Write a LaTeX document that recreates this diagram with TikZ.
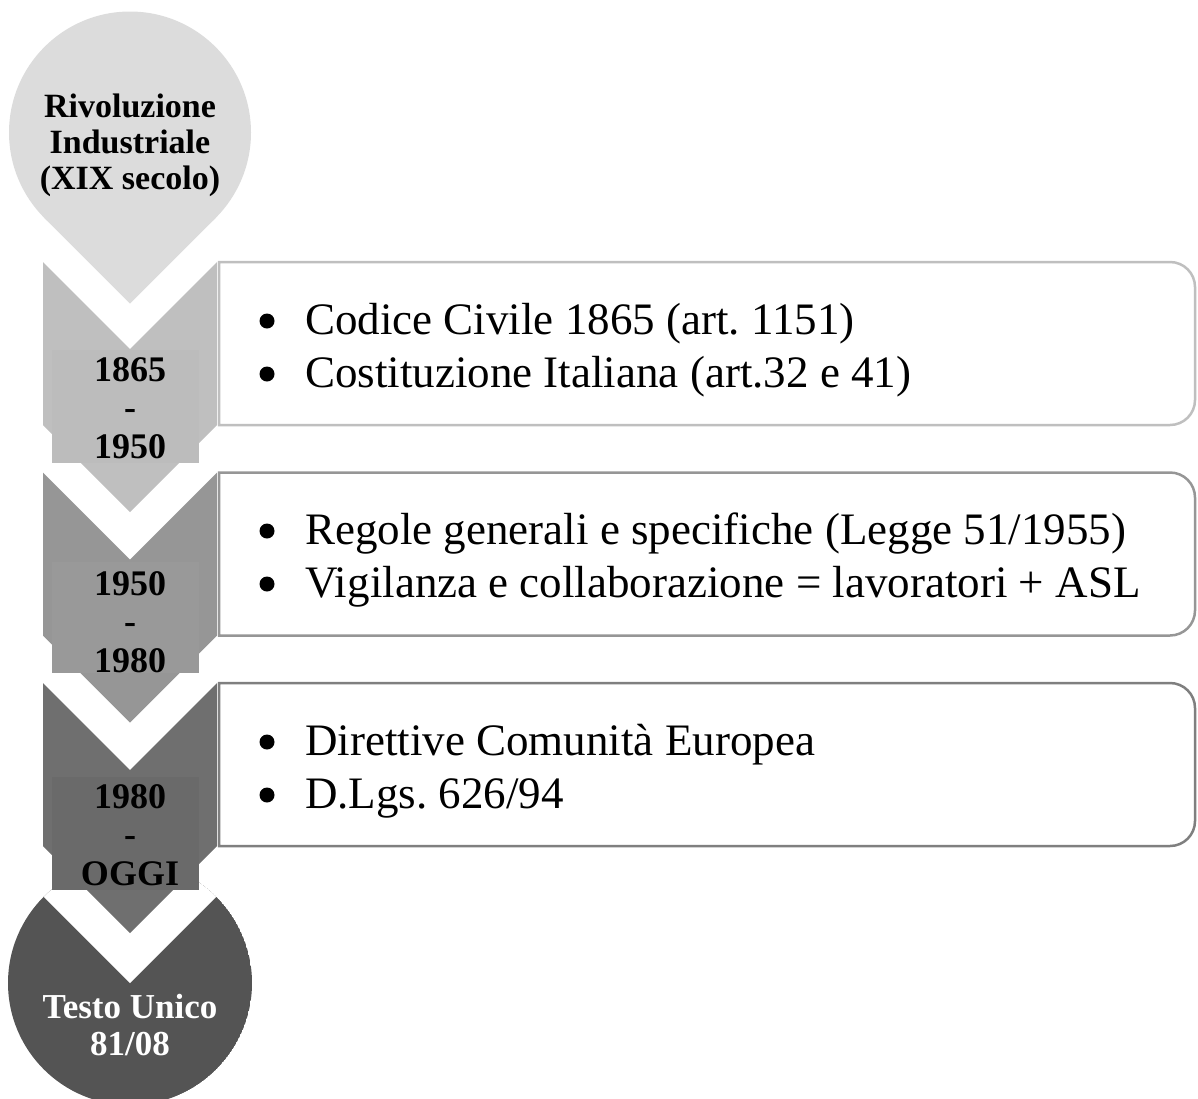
\documentclass[tikz,border=0pt]{standalone}
\usepackage{fontspec}
\setmainfont{Liberation Serif}
\frenchspacing
\definecolor{pinfill}{HTML}{DCDCDC}
\definecolor{chevA}{HTML}{BFBFBF}
\definecolor{chevAin}{HTML}{BCBCBC}
\definecolor{chevB}{HTML}{969696}
\definecolor{chevBin}{HTML}{999999}
\definecolor{chevC}{HTML}{6F6F6F}
\definecolor{chevCin}{HTML}{6A6A6A}
\definecolor{endfill}{HTML}{545454}
\definecolor{edgeA}{HTML}{BFBFBF}
\definecolor{edgeB}{HTML}{969696}
\definecolor{edgeC}{HTML}{7F7F7F}
\begin{document}
\begin{tikzpicture}[x=1pt,y=-1pt,
  yearlbl/.style={align=center, inner sep=0pt, font=\fontsize{36}{38.5}\selectfont\bfseries},
  listtxt/.style={anchor=base west, inner sep=0pt, font=\fontsize{45}{53}\selectfont},
  listbox/.style={line width=2.5pt, fill=white},
  dot/.style={fill=black}]
\useasboundingbox (0,0) rectangle (1198,1098);

% closing circle with a V notch cut into its top
\begin{scope}
  \clip (130,983) circle[radius=122pt];
  \fill[endfill] (130,983) circle[radius=122pt];
  \fill[white] (130,983) -- (-30,823) -- (290,823) -- cycle;
\end{scope}

% opening drop: circle with a pointed bottom
\fill[pinfill] (130,132.5) circle[radius=121pt];
\fill[pinfill] (130,132.5) -- (44.44,218.06) -- (130,303.6) -- (215.56,218.06) -- cycle;

% chevrons
\fill[chevA] (43,262) -- (130,349) -- (217,262) -- (217,425) -- (130,512) -- (43,425) -- cycle;
\fill[chevB] (43,472.5) -- (130,559.5) -- (217,472.5) -- (217,635.5) -- (130,722.5) -- (43,635.5) -- cycle;
\fill[chevC] (43,683) -- (130,770) -- (217,683) -- (217,846) -- (130,933) -- (43,846) -- cycle;

% label panels inside the chevrons
\fill[chevAin] (52,350) rectangle (199,463);
\fill[chevBin] (52,562) rectangle (199,673);
\fill[chevCin] (52,777) rectangle (199,890);

% list boxes (square on the left, rounded on the right)
\draw[listbox, draw=edgeA] (219,425) -- (219,262) [rounded corners=25pt] -- (1195,262) -- (1195,425) [sharp corners] -- cycle;
\draw[listbox, draw=edgeB] (219,635.5) -- (219,472.5) [rounded corners=25pt] -- (1195,472.5) -- (1195,635.5) [sharp corners] -- cycle;
\draw[listbox, draw=edgeC] (219,846) -- (219,683) [rounded corners=25pt] -- (1195,683) -- (1195,846) [sharp corners] -- cycle;

% labels
\node[yearlbl, font=\fontsize{34}{36}\selectfont\bfseries] (start) at (130,145) {Rivoluzione\\Industriale\\(XIX secolo)};
\node[yearlbl] (y1) at (130,408) {1865\\-\\1950};
\node[yearlbl] (y2) at (130,622) {1950\\-\\1980};
\node[yearlbl] (y3) at (130,835) {1980\\-\\OGGI};
\node[yearlbl, font=\fontsize{35}{37}\selectfont\bfseries, text=white] (finish) at (130,1025) {Testo Unico\\81/08};

% bullet points
\foreach \by in {321,374,531,584,742,795}
  \fill[dot] (267,\by) circle[radius=7.5pt];

\node[listtxt] (t1a) at (305,334) {Codice Civile 1865 (art. 1151)};
\node[listtxt] (t1b) at (305,387) {Costituzione Italiana (art.32 e 41)};
\node[listtxt] (t2a) at (305,544) {Regole generali e specifiche (Legge 51/1955)};
\node[listtxt] (t2b) at (305,597) {Vigilanza e collaborazione = lavoratori + ASL};
\node[listtxt] (t3a) at (305,755) {Direttive Comunità Europea};
\node[listtxt] (t3b) at (305,808) {D.Lgs. 626/94};
\end{tikzpicture}
\end{document}
